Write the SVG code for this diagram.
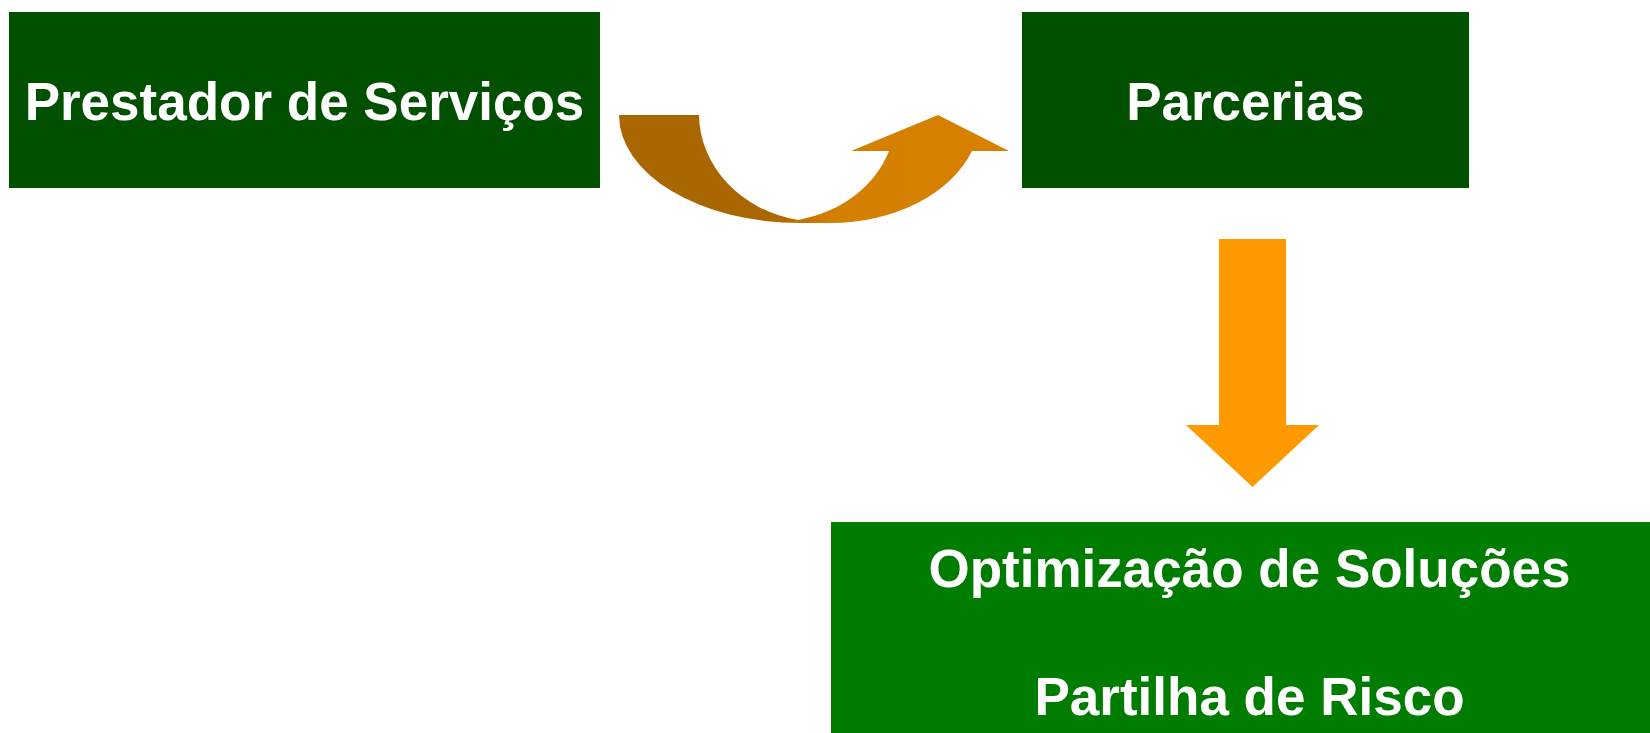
<svg xmlns="http://www.w3.org/2000/svg" width="1650" height="733" viewBox="0 0 1650 733">
  <style>
    .lbl { font-family: "Liberation Sans", Arial, sans-serif; font-weight: bold; font-size: 53px; fill: #ffffff; text-anchor: middle; }
    .dark { fill: #005000; }
    .light { fill: #007C00; }
  </style>
  <defs>
    <linearGradient id="curveGrad" gradientUnits="userSpaceOnUse" x1="619" y1="0" x2="1009" y2="0">
      <stop offset="0" stop-color="#AA6600"/>
      <stop offset="0.38" stop-color="#AA6600"/>
      <stop offset="0.55" stop-color="#D47F00"/>
      <stop offset="1" stop-color="#D88000"/>
    </linearGradient>
  </defs>
  <rect width="1650" height="733" fill="#ffffff"/>
  <g id="connectors">
    <path id="curved-arrow" fill="url(#curveGrad)" d="M 619 115 L 699 115 A 121 108 0 0 0 798 220 A 122 105 0 0 0 889 151 L 851 151 L 938 115 L 1009 151 L 972 151 A 150.6 108 0 0 1 830 223 L 800 223 A 181 108 0 0 1 619 115 Z"/>
    <path id="down-arrow" fill="#FF9900" d="M 1219 239 L 1286 239 L 1286 425 L 1319 425 L 1252.5 487 L 1186 425 L 1219 425 Z"/>
  </g>
  <g id="node-prestador">
    <rect class="dark" x="9" y="12" width="591" height="176"/>
    <text class="lbl" x="304.5" y="120">Prestador de Serviços</text>
  </g>
  <g id="node-parcerias">
    <rect class="dark" x="1022" y="12" width="447" height="176"/>
    <text class="lbl" x="1245.5" y="120">Parcerias</text>
  </g>
  <g id="node-optimizacao">
    <rect class="light" x="831" y="522" width="837" height="220"/>
    <text class="lbl" x="1249.5" y="587">Optimização de Soluções</text>
    <text class="lbl" x="1249.5" y="715">Partilha de Risco</text>
  </g>
</svg>
